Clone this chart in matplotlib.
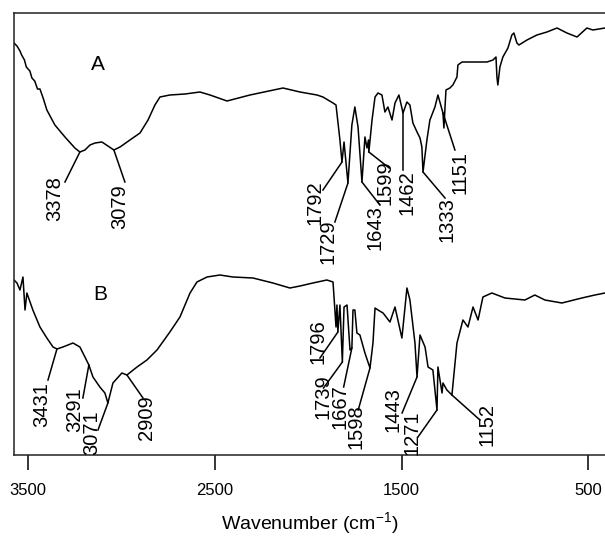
import numpy as np
import matplotlib
matplotlib.use("Agg")
import matplotlib.pyplot as plt

plt.rcParams['font.family'] = ['Liberation Sans', 'DejaVu Sans']
plt.rcParams['mathtext.default'] = 'regular'

# spectrum A (wavenumber, transmittance a.u.)
wn_a = [3576, 3560, 3544, 3535, 3520, 3510, 3491, 3480, 3465, 3450, 3437, 3420,
        3400, 3357, 3303, 3250, 3223, 3196, 3169, 3142,
        3105, 3073, 3041, 3008, 2955, 2901, 2858, 2821, 2794, 2741, 2660, 2580,
        2526, 2435, 2312, 2135, 2044, 1953, 1921, 1867, 1851, 1830, 1819, 1808,
        1787, 1766, 1750, 1733, 1712, 1696, 1685, 1677, 1675, 1658, 1642, 1626,
        1605, 1589, 1573, 1551, 1535, 1514, 1492, 1471, 1455, 1439, 1417, 1401,
        1391, 1385, 1364, 1348, 1321, 1305, 1278, 1273, 1262, 1241, 1225, 1203,
        1198, 1176, 1117, 1042, 1010, 994, 989, 984, 973, 957, 930, 909, 898,
        882, 871, 828, 775, 721, 667, 614, 560, 507, 475, 410]
t_a = [412, 409, 404, 400, 395, 388, 384, 377, 374, 366, 366, 357,
       345, 330, 318, 307, 303, 305, 310, 312,
       313, 309, 305, 308, 315, 322, 335, 350, 358, 360, 361, 363,
       360, 354, 360, 367, 363, 360, 358, 352, 350, 315, 293, 313,
       272, 330, 348, 328, 273, 318, 307, 315, 303, 335, 358, 362,
       360, 343, 348, 335, 352, 360, 342, 353, 350, 332, 323, 317,
       308, 283, 315, 335, 348, 360, 342, 327, 365, 367, 370, 378,
       390, 393, 393, 393, 395, 398, 378, 370, 388, 398, 407, 420, 422,
       412, 410, 415, 420, 423, 427, 422, 418, 427, 425, 427]

# spectrum B
wn_b = [3576, 3560, 3544, 3528, 3517, 3507, 3475, 3437, 3400, 3367, 3346, 3314,
        3260, 3223, 3196, 3175, 3153, 3116, 3089, 3073, 3046, 2998, 2971, 2917,
        2864, 2810, 2741, 2687, 2633, 2596, 2542, 2473, 2403, 2296, 2189, 2098,
        2044, 1975, 1900, 1867, 1851, 1846, 1841, 1830, 1817, 1808, 1792, 1776,
        1766, 1760, 1750, 1739, 1723, 1696, 1669, 1653, 1642, 1626, 1599, 1562,
        1535, 1498, 1471, 1455, 1428, 1417, 1401, 1374, 1358, 1332, 1310, 1305,
        1283, 1278, 1257, 1230, 1203, 1171, 1144, 1117, 1090, 1064, 1016, 946,
        839, 786, 732, 641, 534, 464, 410]
t_b = [175, 172, 165, 178, 145, 162, 145, 128, 117, 108, 106, 108,
       112, 108, 98, 90, 78, 68, 62, 52, 72, 82, 80, 88,
       95, 105, 123, 138, 162, 173, 178, 180, 178, 177, 172, 167,
       169, 172, 175, 173, 128, 150, 123, 150, 93, 148, 150, 105,
       107, 145, 145, 122, 120, 102, 87, 112, 147, 145, 142, 133,
       148, 117, 167, 155, 112, 78, 120, 108, 88, 85, 45, 88,
       62, 72, 65, 60, 112, 135, 128, 148, 135, 158, 162, 157,
       155, 160, 155, 152, 157, 160, 162]

ticks = [3500, 2500, 1500, 500]

# peak labels: text, anchor wavenumber on the trace
peaks_a = ['3378', '3079', '1792', '1729', '1643', '1599', '1462', '1333', '1151']
peak_wn_a = [3223, 3041, 1819, 1787, 1712, 1675, 1492, 1385, 1278]
peaks_b = ['3431', '3291', '3071', '2909', '1796', '1739', '1667', '1598', '1443', '1271', '1152']
peak_wn_b = [3346, 3175, 3073, 2971, 1841, 1817, 1766, 1669, 1417, 1310, 1230]

# layout: leader end and text centre for each label
lead_a = [(3303, 273), (2982, 273), (1921, 265), (1857, 233), (1616, 250),
          (1566, 287), (1492, 285), (1267, 257), (1214, 305)]
txt_a = [(3357, 256), (3008, 248), (1964, 252), (1894, 213), (1642, 227),
         (1589, 272), (1471, 262), (1257, 235), (1187, 282)]
lead_b = [(3394, 75), (3207, 57), (3126, 25), (2885, 57), (1937, 97), (1918, 67),
          (1810, 68), (1732, 45), (1497, 42), (1412, 18), (1080, 35)]
txt_b = [(3426, 50), (3250, 45), (3158, 22), (2864, 37), (1948, 113), (1922, 58),
         (1830, 48), (1742, 28), (1546, 45), (1444, 22), (1042, 31)]

fig = plt.figure(figsize=(6.05, 5.37), dpi=100)
ax = fig.add_axes([14/605, 82/537, 591/605, 442/537])

ax.plot(wn_a, t_a, color='black', linewidth=1.1)
ax.plot(wn_b, t_b, color='black', linewidth=1.1)

for lab, w, le, tp in zip(peaks_a, peak_wn_a, lead_a, txt_a):
    y0 = np.interp(w, wn_a[::-1], t_a[::-1])
    ax.plot([w, le[0]], [y0, le[1]], color='black', linewidth=1.1)
    ax.text(tp[0], tp[1], lab, rotation=90, ha='center', va='center',
            fontsize=14.5, clip_on=False)
for lab, w, le, tp in zip(peaks_b, peak_wn_b, lead_b, txt_b):
    y0 = np.interp(w, wn_b[::-1], t_b[::-1])
    ax.plot([w, le[0]], [y0, le[1]], color='black', linewidth=1.1)
    ax.text(tp[0], tp[1], lab, rotation=90, ha='center', va='center',
            fontsize=14.5, clip_on=False)

ax.text(3126, 390, 'A', fontsize=15, ha='center', va='center')
ax.text(3116, 160, 'B', fontsize=15, ha='center', va='center')

ax.set_xlim(3576, 410)
ax.set_ylim(0, 442)
ax.set_xticks(ticks)
ax.set_yticks([])
ax.tick_params(axis='x', direction='out', length=11, width=1.1, pad=9, labelsize=12)
ax.spines['right'].set_visible(False)
for s in ['left', 'bottom', 'top']:
    ax.spines[s].set_linewidth(1.1)
    ax.spines[s].set_color('#222222')
ax.set_xlabel('Wavenumber (cm$^{-1}$)', fontsize=14, labelpad=9)

fig.savefig('out.png', dpi=100)
